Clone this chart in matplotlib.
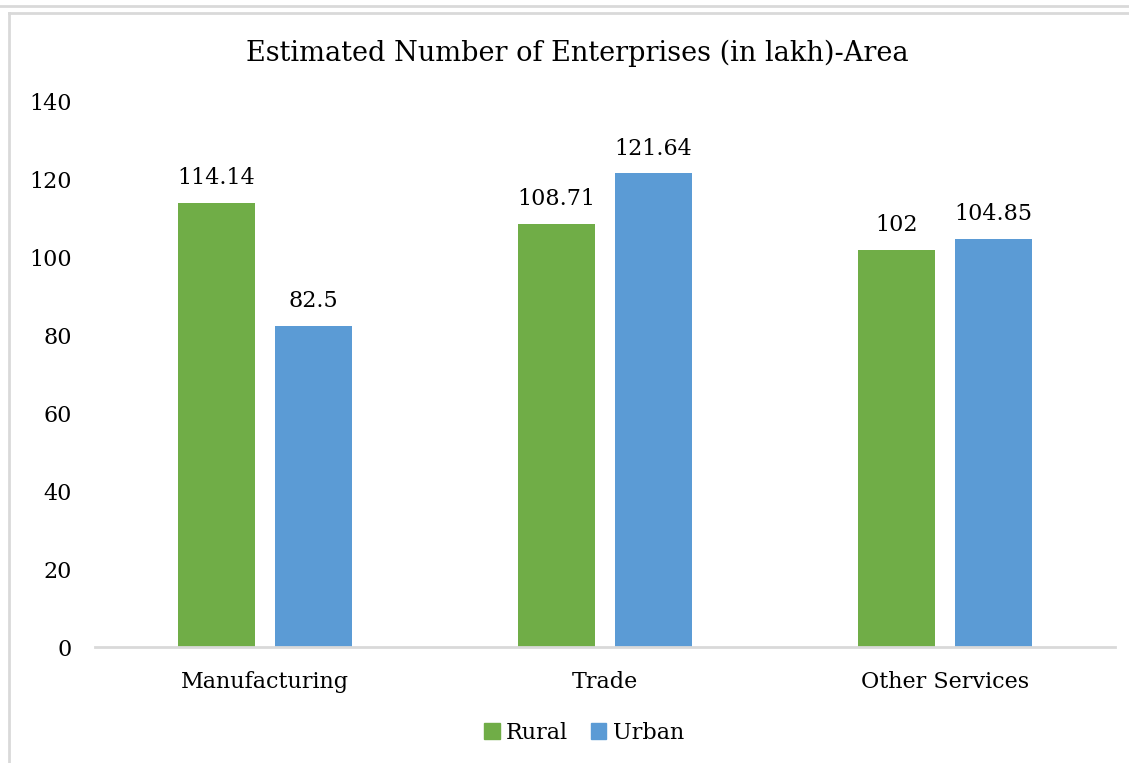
import matplotlib.pyplot as plt
import numpy as np
from matplotlib.lines import Line2D
from matplotlib.patches import Patch

categories = ['Manufacturing', 'Trade', 'Other Services']
rural = [114.14, 108.71, 102]
urban = [82.5, 121.64, 104.85]
rural_labels = ['114.14', '108.71', '102']
urban_labels = ['82.5', '121.64', '104.85']

plt.rcParams['font.family'] = ['DejaVu Serif']

fig = plt.figure(figsize=(11.29, 7.63), dpi=100)
W, H = 1129, 763

# frame lines like the screenshot
fig.add_artist(Line2D([0, 1], [1 - 6 / H, 1 - 6 / H], color='#d9d9d9', lw=2))
fig.add_artist(Line2D([9 / W, 1], [1 - 13 / H, 1 - 13 / H], color='#d9d9d9', lw=2))
fig.add_artist(Line2D([9 / W, 9 / W], [0, 1 - 13 / H], color='#d9d9d9', lw=2))

ax = fig.add_axes([95 / W, 1 - 647 / H, (1115 - 95) / W, (647 - 102) / H])

x = np.arange(len(categories))
w = 0.226
off = 0.143
b1 = ax.bar(x - off, rural, w, color='#70AD47')
b2 = ax.bar(x + off, urban, w, color='#5B9BD5')

for bars, labs in [(b1, rural_labels), (b2, urban_labels)]:
    for b, t in zip(bars, labs):
        ax.text(b.get_x() + b.get_width() / 2, b.get_height() + 3.5, t,
                ha='center', va='bottom', fontsize=16, color='#000000')

ax.set_xlim(-0.5, 2.5)
ax.set_ylim(0, 140)
ax.set_yticks(range(0, 141, 20))
ax.set_xticks(x)
ax.set_xticklabels(categories)
ax.tick_params(axis='both', length=0, labelsize=16, colors='#000000')
ax.tick_params(axis='y', pad=16.5)
ax.tick_params(axis='x', pad=17)
for s in ['top', 'right', 'left']:
    ax.spines[s].set_visible(False)
ax.spines['bottom'].set_color('#d9d9d9')
ax.spines['bottom'].set_linewidth(2)

fig.text(577 / W, 1 - 53 / H, 'Estimated Number of Enterprises (in lakh)-Area',
         ha='center', va='center', fontsize=19.5)

handles = [Patch(color='#70AD47', label='Rural'), Patch(color='#5B9BD5', label='Urban')]
fig.legend(handles=handles, loc='center', bbox_to_anchor=(584 / W, 1 - 733 / H),
           ncol=2, frameon=False, fontsize=16, handlelength=0.7, handleheight=0.7,
           handletextpad=0.3, columnspacing=1.0)

fig.savefig('out.png', dpi=100)
